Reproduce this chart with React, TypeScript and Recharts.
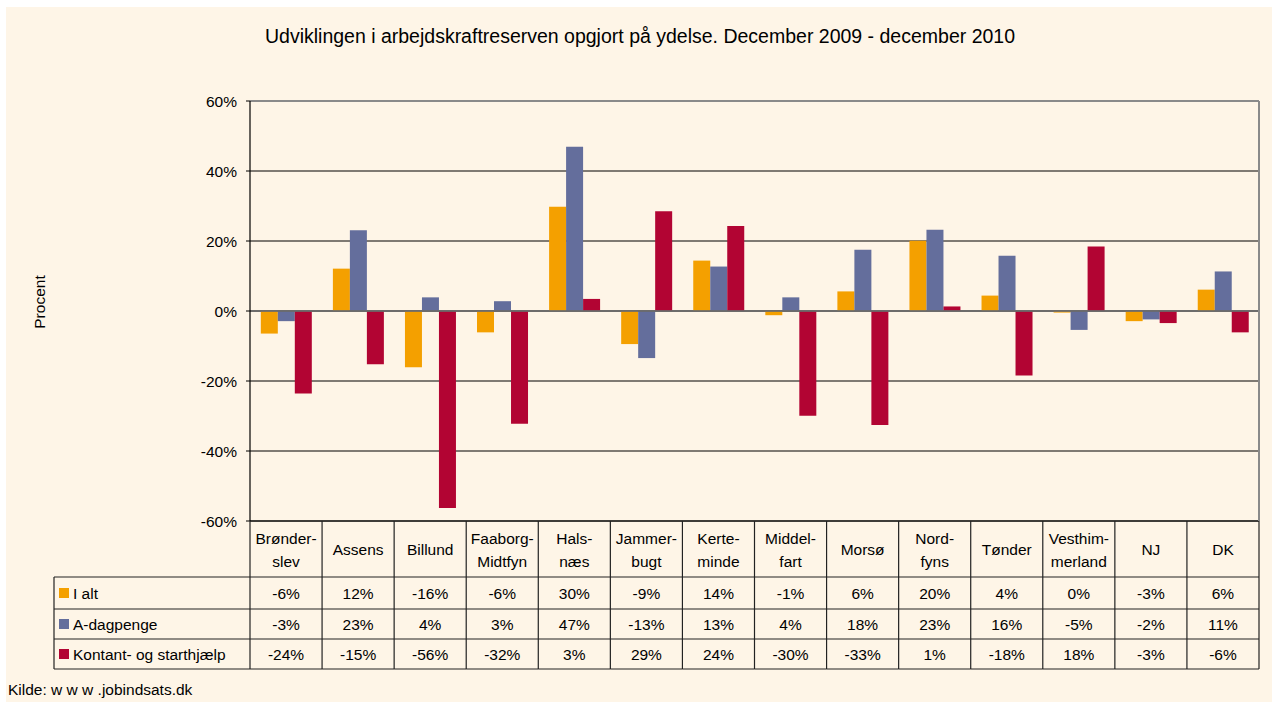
import React from 'react';
import { BarChart, Bar, XAxis, YAxis, CartesianGrid, ReferenceLine } from 'recharts';

const categories = [
  'Brønder-\nslev', 'Assens', 'Billund', 'Faaborg-\nMidtfyn', 'Hals-\nnæs', 'Jammer-\nbugt', 'Kerte-\nminde',
  'Middel-\nfart', 'Morsø', 'Nord-\nfyns', 'Tønder', 'Vesthim-\nmerland', 'NJ', 'DK',
];
const seriesNames = ['I alt', 'A-dagpenge', 'Kontant- og starthjælp'];
const iAlt = [-6.45, 12.1, -16.1, -6.1, 29.8, -9.45, 14.4, -1.2, 5.6, 20.1, 4.4, -0.45, -2.9, 6.1];
const aDagpenge = [-2.9, 23.1, 3.9, 2.8, 46.9, -13.45, 12.7, 3.9, 17.5, 23.2, 15.8, -5.4, -2.4, 11.3];
const kontant = [-23.6, -15.2, -56.3, -32.2, 3.45, 28.5, 24.3, -29.9, -32.6, 1.3, -18.4, 18.4, -3.45, -6.1];
const yTicks = [-60, -40, -20, 0, 20, 40, 60];

const keys = ['iAlt', 'aDagpenge', 'kontant'];
const colors = ['#F4A000', '#646E9C', '#B20433'];
const series = [iAlt, aDagpenge, kontant];

const data = categories.map((name, i) => ({
  name,
  iAlt: iAlt[i],
  aDagpenge: aDagpenge[i],
  kontant: kontant[i],
}));

const FONT = '"Liberation Sans", Arial, sans-serif';
const BG = '#FEF5E7';
const CHART_W = 1266;
const CHART_H = 695;
const MARGIN = { top: 94, right: 13, left: 0, bottom: 21 };
const Y_AXIS_W = 244;
const PLOT_W = CHART_W - MARGIN.left - MARGIN.right - Y_AXIS_W;
const PLOT_H = 420;
const COL_W = PLOT_W / categories.length;
// table row edges, below the plot bottom
const ROWS = [56, 88, 118, 148];
const ROW_MID = [72, 103, 133];
const LINE = '#222';

const fmt = (v: number) => {
  const r = Math.round(v);
  return `${r === 0 ? 0 : r}%`;
};

function TableTick(props: any) {
  const { x, y, payload, index } = props;
  const i = payload?.index ?? index;
  const half = COL_W / 2;
  const lines = String(payload.value).split('\n');
  const last = i === categories.length - 1;
  return (
    <g fontFamily={FONT} fontSize={15.5} fill="#000">
      <line x1={x - half} y1={y} x2={x - half} y2={y + ROWS[3]} stroke={LINE} strokeWidth={1.2} />
      {last && (
        <>
          <line x1={x + half} y1={y - PLOT_H} x2={x + half} y2={y} stroke="#8a8a8a" strokeWidth={2} />
          <line x1={x + half} y1={y} x2={x + half} y2={y + ROWS[3]} stroke={LINE} strokeWidth={1.2} />
        </>
      )}
      {ROWS.map((r) => (
        <line key={r} x1={x - half} y1={y + r} x2={x + half} y2={y + r} stroke={LINE} strokeWidth={1.2} />
      ))}
      {lines.length === 1 ? (
        <text x={x} y={y + 28} textAnchor="middle" dominantBaseline="central">{lines[0]}</text>
      ) : (
        lines.map((l, k) => (
          <text key={k} x={x} y={y + 17 + k * 23} textAnchor="middle" dominantBaseline="central">{l}</text>
        ))
      )}
      {series.map((s, k) => (
        <text key={k} x={x} y={y + ROW_MID[k]} textAnchor="middle" dominantBaseline="central">
          {fmt(s[i])}
        </text>
      ))}
      {i === 0 && (
        <g>
          <line x1={x - half - 196} y1={y + ROWS[0]} x2={x - half - 196} y2={y + ROWS[3]} stroke={LINE} strokeWidth={1.2} />
          {ROWS.map((r) => (
            <line key={r} x1={x - half - 196} y1={y + r} x2={x - half} y2={y + r} stroke={LINE} strokeWidth={1.2} />
          ))}
          {seriesNames.map((n, k) => (
            <g key={n}>
              <rect x={x - half - 191} y={y + ROW_MID[k] - 5} width={10} height={10} fill={colors[k]} />
              <text x={x - half - 177} y={y + ROW_MID[k]} dominantBaseline="central">{n}</text>
            </g>
          ))}
        </g>
      )}
    </g>
  );
}

function YLabel(props: any) {
  const { viewBox } = props;
  const cx = 33;
  const cy = viewBox.y + viewBox.height / 2 - 9;
  return (
    <text
      x={cx} y={cy} transform={`rotate(-90, ${cx}, ${cy})`} textAnchor="middle" dominantBaseline="central"
      fontFamily={FONT} fontSize={15.5} fill="#000"
    >
      Procent
    </text>
  );
}

export default function App() {
  return (
    <div style={{ position: 'absolute', left: 0, top: 0, width: 1272, height: 702, background: '#fff' }}>
      <div style={{ position: 'absolute', left: 6, top: 7, width: CHART_W, height: CHART_H, background: BG }}>
        <div style={{
          position: 'absolute', left: 0, top: 18, width: 1268, textAlign: 'center',
          fontFamily: FONT, fontSize: 19.5, color: '#000',
        }}>
          Udviklingen i arbejdskraftreserven opgjort på ydelse. December 2009 - december 2010
        </div>
        <BarChart
          width={CHART_W} height={CHART_H} data={data} margin={MARGIN}
          barGap={0} barCategoryGap="15%"
          style={{ position: 'absolute', left: 0, top: 0 }}
        >
          <CartesianGrid vertical={false} stroke="#000" strokeWidth={1.2} />
          <YAxis
            width={Y_AXIS_W} domain={[-60, 60]} ticks={yTicks} interval={0}
            tickFormatter={(v: number) => `${v}%`}
            axisLine={{ stroke: '#000', strokeWidth: 1.2 }} tickLine={{ stroke: '#000' }}
            tickSize={4} tickMargin={9}
            tick={{ fontFamily: FONT, fontSize: 15.5, fill: '#000' }}
            label={<YLabel />}
          />
          <XAxis
            dataKey="name" height={160} interval={0} tickSize={0} tickMargin={0}
            axisLine={{ stroke: '#000', strokeWidth: 1.2 }} tickLine={false}
            tick={<TableTick />}
          />
          {keys.map((k, i) => (
            <Bar key={k} dataKey={k} name={seriesNames[i]} fill={colors[i]} isAnimationActive={false} />
          ))}
          <ReferenceLine y={60} stroke="#8a8a8a" strokeWidth={2} />
          <ReferenceLine y={0} stroke="#6a6a6a" strokeWidth={2} strokeOpacity={0.85} />
        </BarChart>
        <div style={{ position: 'absolute', left: 2, top: 674, fontFamily: FONT, fontSize: 15.5, color: '#000' }}>
          Kilde: w w w .jobindsats.dk
        </div>
      </div>
    </div>
  );
}
